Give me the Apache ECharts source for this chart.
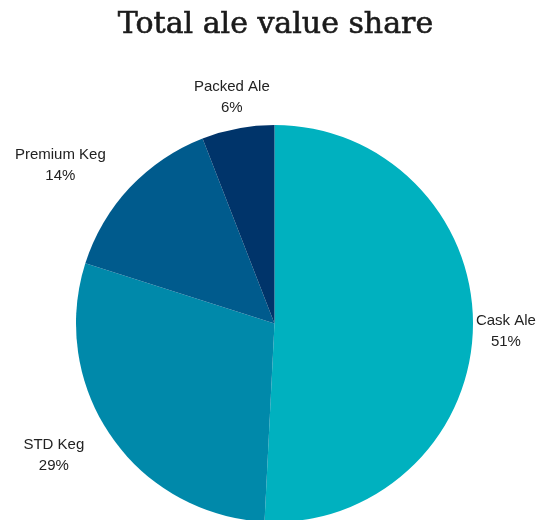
<!DOCTYPE html>
<html>
<head>
<meta charset="utf-8">
<script src="https://cdn.jsdelivr.net/npm/echarts@6/dist/echarts.min.js"></script>
<style>
html,body{margin:0;padding:0;background:#fff;}
#chart{width:538px;height:520px;}
</style>
</head>
<body>
<div id="chart"></div>
<script>
var titleText = 'Total ale value share';
var categories = ['Cask Ale', 'STD Keg', 'Premium Keg', 'Packed Ale'];
var values = [50.8, 29.1, 14.2, 5.9];
var colors = ['#00B1BF', '#0089AA', '#005B8D', '#00346A'];
var lineLengths = [0, 33, 33, 33];
var lineLengths2 = [3, 0, 0, 0];

var chart = echarts.init(document.getElementById('chart'));
var data = categories.map(function (c, i) {
  return {
    name: c,
    value: values[i],
    itemStyle: { color: colors[i] },
    labelLine: { show: false, length: lineLengths[i], length2: lineLengths2[i] }
  };
});
chart.setOption({
  backgroundColor: '#ffffff',
  animation: false,
  title: {
    text: titleText,
    left: 270.5,
    top: 5,
    textAlign: 'center',
    textStyle: {
      fontFamily: 'DejaVu Serif',
      fontWeight: 'normal',
      fontSize: 30,
      color: '#1a1a1a',
      textBorderColor: '#1a1a1a',
      textBorderWidth: 0.6
    }
  },
  series: [{
    type: 'pie',
    center: [274.5, 323.5],
    radius: 198.5,
    startAngle: 90,
    clockwise: true,
    avoidLabelOverlap: false,
    percentPrecision: 0,
    data: data,
    label: {
      show: true,
      position: 'outside',
      distanceToLabelLine: 0,
      formatter: '{c|{b}}\n{c|{d}%}',
      color: '#222',
      fontFamily: 'Liberation Sans',
      fontSize: 15,
      lineHeight: 21,
      rich: {
        c: { align: 'center', fontFamily: 'Liberation Sans', fontSize: 15, lineHeight: 21, color: '#222' }
      }
    },
    labelLayout: function (params) {
      if (params.dataIndex === 3) { return { align: 'center', dy: 1 }; }
      if (params.dataIndex === 0) { return { dy: 3 }; }
      return {};
    },
    emphasis: { disabled: true }
  }]
});
</script>
</body>
</html>
